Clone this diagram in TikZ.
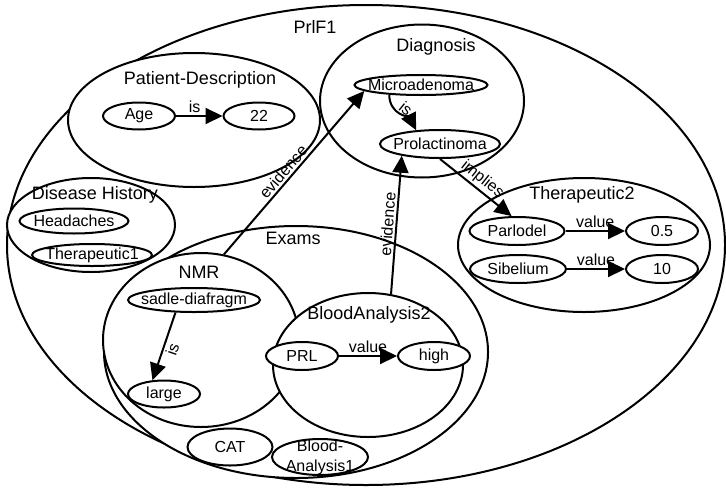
\documentclass[tikz,border=0pt]{standalone}
\usepackage{fontspec}
\setsansfont{Liberation Sans}
\usetikzlibrary{shapes.geometric,arrows.meta}
\tikzset{
  ellsize/.style 2 args = {minimum width=#1*0.5pt, minimum height=#2*0.5pt},
  ctxbox/.style = {draw, ellipse, fill=white, line width=1pt, inner sep=0pt},
  ctxtitle/.style = {font=\sffamily\fontsize{9}{11}\selectfont, inner sep=0pt},
  conceptlabel/.style = {font=\sffamily\fontsize{8}{10}\selectfont, align=center, inner sep=0pt},
  conceptnode/.style = {ctxbox, label={[conceptlabel]center:#1}},
  relation/.style = {-{Triangle[length=8.5pt,width=8pt]}, line width=1pt},
  rellabel/.style = {font=\sffamily\fontsize{8}{9}\selectfont, inner sep=1pt}
}

\begin{document}
\begin{tikzpicture}[x=0.5pt,y=-0.5pt]
\useasboundingbox (0,0) rectangle (726,487);

% contexts (coordinates in pixels of the original)
\node[ctxbox, ellsize={718}{480}] (prlf)  at (366,245) {};
\node[ctxbox, ellsize={252}{134}] (pd)    at (194,120) {};
\node[ctxbox, ellsize={204}{153}] (diag)  at (422,101) {};
\node[ctxbox, ellsize={168}{94}]  (dh)    at (91,225)  {};
\node[ctxbox, ellsize={252}{134}] (ther2) at (584,245) {};
\node[ctxbox, ellsize={384}{252}] (exams) at (296,352) {};
\node[ctxbox, ellsize={196}{174}] (nmr)   at (201,340) {};
\node[ctxbox, ellsize={190}{144}] (ba2)   at (368,365) {};

% context titles
\node[ctxtitle] (prlftitle)  at (315,27)  {PrlF1};
\node[ctxtitle] (pdtitle)    at (200,80)  {Patient-Description};
\node[ctxtitle] (diagtitle)  at (436,47)  {Diagnosis};
\node[ctxtitle] (dhtitle)    at (95,195)  {Disease History};
\node[ctxtitle] (ther2title) at (582,195) {Therapeutic2};
\node[ctxtitle] (examstitle) at (293,238) {Exams};
\node[ctxtitle] (nmrtitle)   at (199,272) {NMR};
\node[ctxtitle] (ba2title)   at (369,315) {BloodAnalysis2};

% concepts
\node[conceptnode=Age,            ellsize={72}{27}]  (age)       at (139,116) {};
\node[conceptnode=22,             ellsize={71}{27}]  (v22)       at (259,116) {};
\node[conceptnode=Headaches,      ellsize={109}{25}] (headaches) at (74,221)  {};
\node[conceptnode=Therapeutic1,   ellsize={120}{22}] (ther1)     at (92,255)  {};
\node[conceptnode=Microadenoma,   ellsize={133}{20}] (micro)     at (421,85)  {};
\node[conceptnode=Prolactinoma,   ellsize={120}{28}] (prolact)   at (440,144) {};
\node[conceptnode=Parlodel,       ellsize={95}{28}]  (parlodel)  at (517,231) {};
\node[conceptnode=0.5,            ellsize={72}{28}]  (v05)       at (662,231) {};
\node[conceptnode=Sibelium,       ellsize={96}{28}]  (sibelium)  at (518,269) {};
\node[conceptnode=10,             ellsize={72}{28}]  (v10)       at (662,269) {};
\node[conceptnode=sadle-diafragm, ellsize={132}{24}] (sadle)     at (194,300) {};
\node[conceptnode=large,          ellsize={72}{27}]  (large)     at (164,394) {};
\node[conceptnode=PRL,            ellsize={72}{28}]  (prl)       at (302,356) {};
\node[conceptnode=high,           ellsize={72}{28}]  (high)      at (434,356) {};
\node[conceptnode=CAT,            ellsize={85}{37}]  (cat)       at (230,447) {};
\node[conceptnode={Blood-\\Analysis1}, ellsize={96}{36}] (ba1)   at (320,457) {};

% relations
\draw[relation] (age) -- node[rellabel, above, pos=0.4] {is} (v22);
\draw[relation] (micro.197) .. controls +(0,20) and +(-6,-12) .. node[rellabel, sloped, above] {is} (prolact.150);
\draw[relation] (nmr.75) -- node[rellabel, sloped, above, pos=0.47] {evidence} (micro.186);
\draw[relation] (ba2.72) -- node[rellabel, sloped, above] {evidence} (prolact.197);
\draw[relation] (prolact.south) -- node[rellabel, sloped, above] {implies} (parlodel.110);
\draw[relation] (parlodel) -- node[rellabel, above] {value} (v05);
\draw[relation] (sibelium) -- node[rellabel, above] {value} (v10);
\draw[relation] (prl) -- node[rellabel, above] {value} (high);
\draw[relation] (sadle.214) -- node[rellabel, sloped, below] {is} (large.130);
\end{tikzpicture}
\end{document}
